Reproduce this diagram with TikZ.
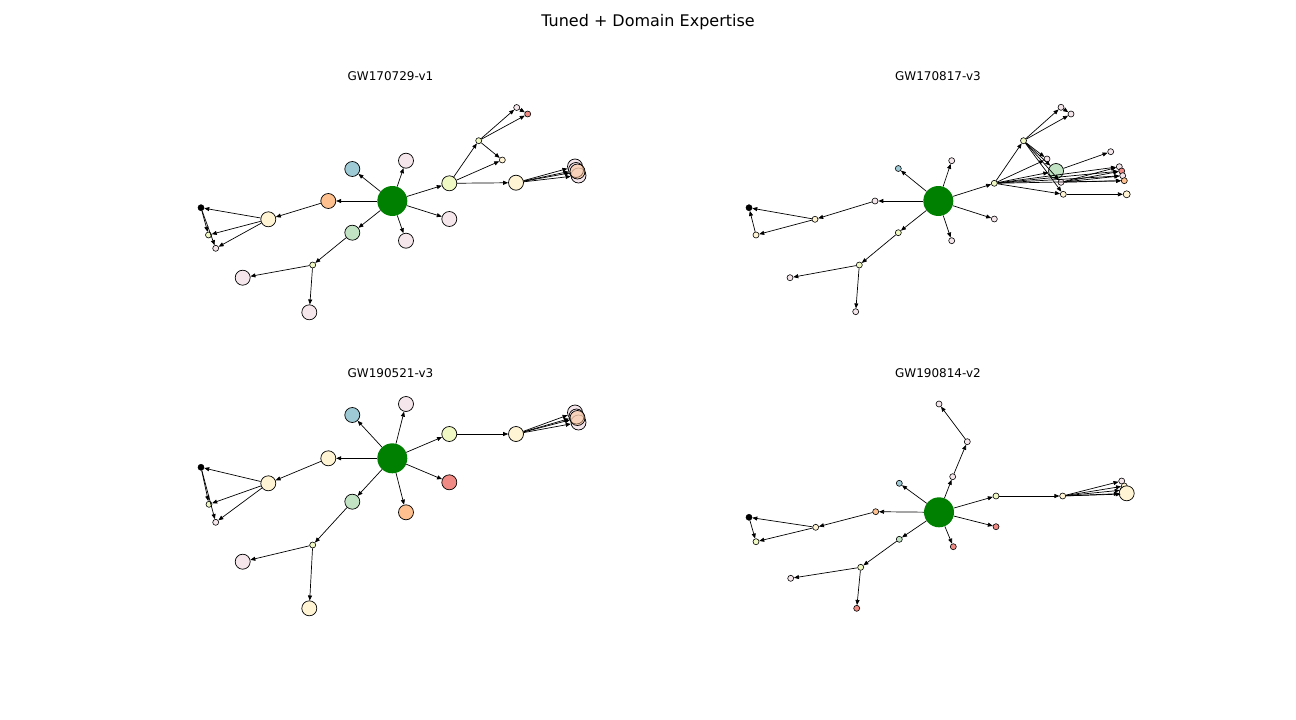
\documentclass[tikz,border=0pt]{standalone}
\usepackage{fontspec}
\setmainfont{DejaVu Sans}
\usetikzlibrary{arrows.meta}
\definecolor{hubgreen}{HTML}{008000}
\definecolor{pblue}{HTML}{9ECAD6}
\definecolor{ppink}{HTML}{F5E6EC}
\definecolor{porange}{HTML}{FDC08E}
\definecolor{pmint}{HTML}{C2E4C5}
\definecolor{plime}{HTML}{F0F8C4}
\definecolor{pcream}{HTML}{FFF4D4}
\definecolor{pred}{HTML}{EF8B84}
\begin{document}
\begin{tikzpicture}[x=1pt, y=-1pt,
        vtx/.style={circle, draw=black, line width=0.7pt, inner sep=0pt},
        big/.style={vtx, minimum size=15pt},
        sml/.style={vtx, minimum size=6pt, line width=0.6pt},
        hub/.style={circle, fill=hubgreen, inner sep=0pt, minimum size=30pt},
        edge/.style={-{Triangle[length=5pt,width=4pt]}, line width=0.7pt},
        panel/.style={anchor=base, font=\fontsize{12}{14}\selectfont}]
    \useasboundingbox (0,0) rectangle (1296,720);
    \node[anchor=base, font=\fontsize{16}{19}\selectfont] (title) at (648,27) {Tuned + Domain Expertise};
    \node[panel] (tA) at (390.5,80.5) {GW170729-v1};
    \node[panel] (tB) at (938,80.5) {GW170817-v3};
    \node[panel] (tC) at (390.5,377.5) {GW190521-v3};
    \node[panel] (tD) at (938,377.5) {GW190814-v2};

    \node[hub] (A0) at (392.3,201) {};
    \foreach \n/\x/\y/\s/\c in {A1/352.3/169/big/pblue, A2/406/160.7/big/ppink, A3/328.3/201/big/porange,
            A4/268.3/219.3/big/pcream, A5/352.3/232.7/big/pmint, A6/406/240.7/big/ppink, A7/449.3/219/big/ppink,
            A8/449.3/183.3/big/plime, A9/516/182.7/big/pcream, A10/478.7/140.7/sml/plime, A11/516.7/107.5/sml/ppink,
            A12/527.7/114/sml/pred, A13/502.3/160/sml/pcream, A14/201/207.7/sml/black, A15/208.5/235/sml/plime,
            A16/215.7/248.3/sml/ppink, A17/312.7/265/sml/plime, A18/242.7/277.7/big/ppink, A19/309.3/312.3/big/ppink,
            A20/575/166.5/big/ppink, A21/578.5/175.5/big/ppink}
        \node[\s, fill=\c] (\n) at (\x,\y) {};
    \node[big, fill=ppink, fill opacity=0.6] (A22) at (576,170) {};
    \node[big, fill=porange, fill opacity=0.5] (A23) at (577.5,171.5) {};
    \foreach \a/\b in {A0/A1, A0/A2, A0/A3, A0/A5, A0/A6, A0/A7, A0/A8, A3/A4, A4/A14, A4/A15, A4/A16,
            A14/A15, A14/A16, A5/A17, A17/A18, A17/A19, A8/A10, A8/A13, A8/A9, A10/A11, A10/A12, A10/A13,
            A11/A12, A9/A20, A9/A21, A9/A22, A9/A23}
        \draw[edge] (\a) -- (\b);

    \node[hub] (B0) at (938.3,201) {};
    \foreach \n/\x/\y/\s/\c in {B1/898.3/168.5/sml/pblue, B2/951.7/160.7/sml/ppink, B3/875/201/sml/ppink,
            B4/815/219.3/sml/pcream, B5/749/207.7/sml/black, B6/756/235/sml/pcream, B7/898.3/232.7/sml/plime,
            B8/951.7/240.7/sml/ppink, B9/994.3/219/sml/ppink, B10/994.3/183.3/sml/plime, B11/859.3/265/sml/plime,
            B12/790/277.7/sml/ppink, B13/855.7/311.7/sml/ppink, B14/1023.5/140.7/sml/plime, B15/1061/107.3/sml/ppink,
            B16/1071/114/sml/ppink, B17/1047/159/sml/ppink, B18/1056/171/big/pmint, B19/1110.7/151.7/sml/ppink,
            B20/1061/182.3/sml/ppink, B21/1063.3/194.3/sml/pcream, B23/1119.3/166.7/sml/ppink,
            B24/1121.7/171/sml/pred, B25/1122.7/175.7/sml/ppink, B26/1124.3/180.7/sml/porange}
        \node[\s, fill=\c] (\n) at (\x,\y) {};
    \node[sml, fill=pcream, minimum size=7pt] (B22) at (1126.7,194.3) {};
    \foreach \a/\b in {B0/B1, B0/B2, B0/B3, B0/B7, B0/B8, B0/B9, B0/B10, B3/B4, B4/B5, B4/B6, B6/B5,
            B7/B11, B11/B12, B11/B13, B10/B14, B10/B17, B10/B18, B10/B21, B10/B23, B10/B24, B10/B25, B10/B26,
            B14/B15, B14/B16, B15/B16, B14/B17, B14/B18, B14/B20, B14/B21, B18/B19,
            B20/B23, B20/B24, B20/B25, B20/B26, B21/B22}
        \draw[edge] (\a) -- (\b);

    \node[hub] (C0) at (392.3,458.3) {};
    \foreach \n/\x/\y/\s/\c in {C1/352.3/415/big/pblue, C2/406/404/big/ppink, C3/449.3/434/big/plime,
            C4/516/434/big/pcream, C5/575/412.5/big/ppink, C6/578.5/422.5/big/ppink, C9/328.3/458.3/big/pcream,
            C10/268.3/483.3/big/pcream, C11/201/467.3/sml/black, C12/209/504.3/sml/plime, C13/215.7/522.3/sml/ppink,
            C14/352.3/501.7/big/pmint, C15/312.7/545/sml/plime, C16/242.7/561.7/big/ppink,
            C17/309.3/608.3/big/pcream, C18/449.3/482.3/big/pred, C19/406/512.3/big/porange}
        \node[\s, fill=\c] (\n) at (\x,\y) {};
    \node[big, fill=ppink, fill opacity=0.6] (C7) at (576.5,416.5) {};
    \node[big, fill=porange, fill opacity=0.5] (C8) at (577.5,418) {};
    \foreach \a/\b in {C0/C1, C0/C2, C0/C3, C0/C18, C0/C19, C0/C14, C0/C9, C9/C10, C10/C11, C10/C12, C10/C13,
            C11/C12, C11/C13, C14/C15, C15/C16, C15/C17, C3/C4, C4/C5, C4/C6, C4/C7, C4/C8}
        \draw[edge] (\a) -- (\b);

    \node[hub] (D0) at (939,512.3) {};
    \foreach \n/\x/\y/\s/\c in {D1/899.3/483.3/sml/pblue, D2/952.7/476.7/sml/ppink, D3/967.3/441.7/sml/ppink,
            D4/939/404/sml/ppink, D5/996/496/sml/plime, D6/1062.7/496/sml/pcream, D7/1121.7/481/sml/ppink,
            D8/1124.3/486/sml/pcream, D20/1123/490/sml/ppink, D21/1124/494/sml/pcream,
            D9/1126.7/493.3/big/pcream, D10/996/526.7/sml/pred, D11/953.3/546.7/sml/pred,
            D12/875.7/511.7/sml/porange, D13/815.7/527.3/sml/pcream, D14/749/517.3/sml/black,
            D15/756/541.7/sml/plime, D16/899.3/539.3/sml/pmint, D17/860.7/567.3/sml/plime,
            D18/790.7/578.3/sml/ppink, D19/856.7/608.3/sml/pred}
        \node[\s, fill=\c] (\n) at (\x,\y) {};
    \foreach \a/\b in {D0/D1, D0/D2, D0/D5, D0/D10, D0/D11, D0/D12, D0/D16, D2/D3, D3/D4, D12/D13,
            D13/D14, D13/D15, D14/D15, D16/D17, D17/D18, D17/D19, D5/D6, D6/D7, D6/D8, D6/D20, D6/D21, D6/D9}
        \draw[edge] (\a) -- (\b);
\end{tikzpicture}
\end{document}
